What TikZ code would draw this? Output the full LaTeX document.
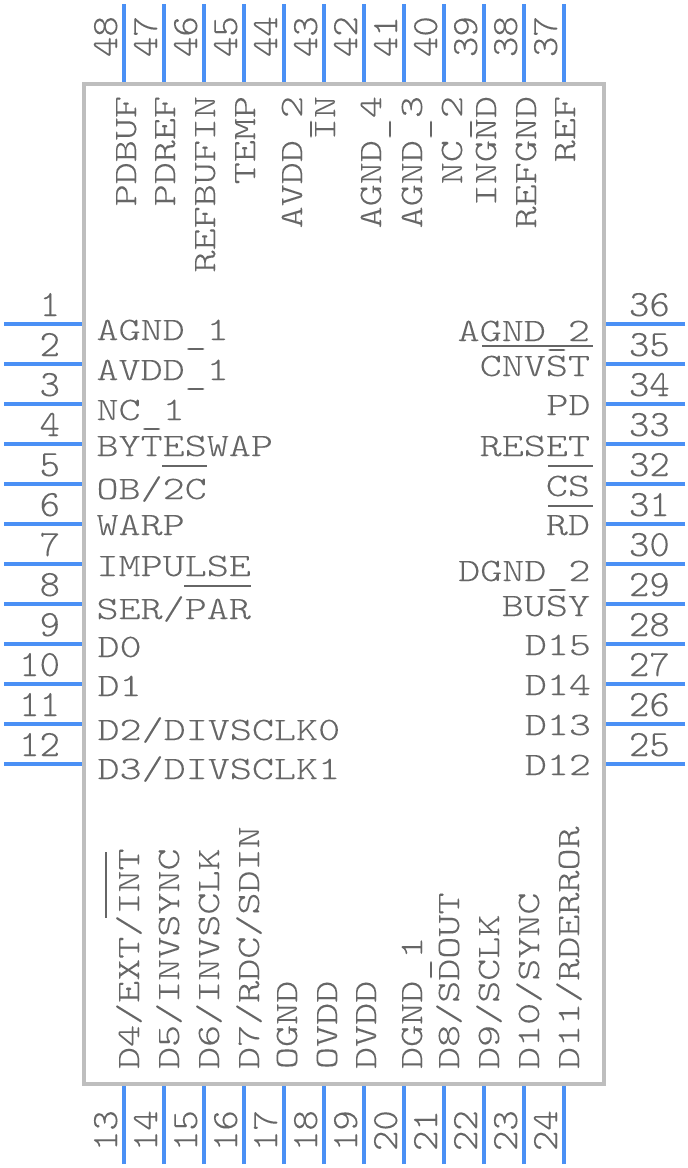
\documentclass[tikz,border=0pt]{standalone}
\usepackage{fontspec}
\newfontfamily\lblfont[FakeStretch=1.285,FakeBold=0.06]{Latin Modern Mono Light}
\newfontfamily\numfont[FakeStretch=1.05,FakeBold=0.06]{Latin Modern Mono Light}
\definecolor{bodygray}{HTML}{BEBEBE}
\definecolor{pinblue}{HTML}{4A90F5}
\definecolor{textgray}{HTML}{666666}
\newcommand\us{\raisebox{-4pt}{\_}}
\tikzset{
  chip/.style={draw=bodygray,line width=4pt,minimum width=520pt,minimum height=1000pt,inner sep=0pt},
  pinline/.style={draw=pinblue,line width=4pt},
  lbl/.style={text=textgray,inner sep=0pt,outer sep=0pt,font=\lblfont\fontsize{32.7pt}{33pt}\selectfont},
  num/.style={text=textgray,inner sep=0pt,outer sep=0pt,font=\numfont\fontsize{37pt}{37pt}\selectfont},
  bar/.style={draw=textgray,line width=2pt}
}
\begin{document}
\begin{tikzpicture}[x=1pt,y=-1pt]
\useasboundingbox (0,0) rectangle (688,1168);
\node[chip] (body) at (344,584) {};
% pins and numbers
\foreach \n in {1,...,12}{
  \pgfmathtruncatemacro{\py}{324+40*(\n-1)}
  \coordinate (l\n) at (4,\py);
  \draw[pinline] (l\n) -- (body.west |- l\n);
  \node[num,anchor=base east] (ln\n) at (60,\py-8) {\n};
}
\foreach \n in {13,...,24}{
  \pgfmathtruncatemacro{\px}{124+40*(\n-13)}
  \coordinate (b\n) at (\px,1164);
  \draw[pinline] (b\n) -- (body.south -| b\n);
  \node[num,anchor=base west,rotate=90] (bn\n) at (\px-7,1151) {\n};
}
\foreach \n in {25,...,36}{
  \pgfmathtruncatemacro{\py}{764-40*(\n-25)}
  \coordinate (r\n) at (685,\py);
  \draw[pinline] (r\n) -- (body.east |- r\n);
  \node[num,anchor=base west] (rn\n) at (629,\py-8) {\n};
}
\foreach \n in {37,...,48}{
  \pgfmathtruncatemacro{\px}{564-40*(\n-37)}
  \coordinate (t\n) at (\px,4);
  \draw[pinline] (t\n) -- (body.north -| t\n);
  \node[num,anchor=base west,rotate=90] (tn\n) at (\px-7,57) {\n};
}
% left labels
\foreach \nm/\y/\X/\t in {a/340/96.5/{AGND\us 1},b/380/96.5/{AVDD\us 1},c/420/96.5/{NC\us 1},d/456/96.5/{BYTESWAP},e/499/96.5/{OB/2C},f/535/96.5/{WARP},g/576/96.5/{IMPULSE},h/619/96.5/{SER/PAR},i/657/97.5/{D0},j/696/97.5/{D1},k/740/97.5/{D2/DIVSCLK0},m/779/97.5/{D3/DIVSCLK1}}{
  \node[lbl,anchor=base west] (L\nm) at (\X,\y) {\t};
}
% right labels
\foreach \nm/\y/\X/\t in {a/341/590/{AGND\us 2},b/376/590/{CNVST},c/415/590.5/{PD},d/456/590/{RESET},e/496/590/{CS},f/535/590/{RD},g/581/590.5/{DGND\us 2},h/616/590/{BUSY},i/655/591/{D15},j/695/591/{D14},k/735/591/{D13},m/775/591/{D12}}{
  \node[lbl,anchor=base east] (R\nm) at (\X,\y) {\t};
}
% top labels
\foreach \nm/\x/\t in {a/136/{PDBUF},b/175/{PDREF},c/215/{REFBUFIN},d/255/{TEMP},e/302/{AVDD\us 2},f/335/{IN},g/381/{AGND\us 4},h/422/{AGND\us 3},i/462/{NC\us 2},j/496/{INGND},k/536/{REFGND},m/575/{REF}}{
  \node[lbl,anchor=base east,rotate=90] (T\nm) at (\x,96) {\t};
}
% bottom labels
\foreach \nm/\x/\t in {a/139/{D4/EXT/INT},b/179/{D5/INVSYNC},c/219/{D6/INVSCLK},d/259/{D7/RDC/SDIN},e/297/{OGND},f/337/{OVDD},g/376/{DVDD},h/422/{DGND\us 1},i/459/{D8/SDOUT},j/499/{D9/SCLK},k/539/{D10/SYNC},m/579/{D11/RDERROR}}{
  \node[lbl,anchor=base west,rotate=90] (B\nm) at (\x,1069) {\t};
}
% overbars
\draw[bar] (162,466) -- (207,466);
\draw[bar] (184,586) -- (251,586);
\draw[bar] (482,346) -- (593,346);
\draw[bar] (548,466) -- (593,466);
\draw[bar] (548,506) -- (593,506);
\draw[bar] (106,852) -- (106,918);
\end{tikzpicture}
\end{document}
